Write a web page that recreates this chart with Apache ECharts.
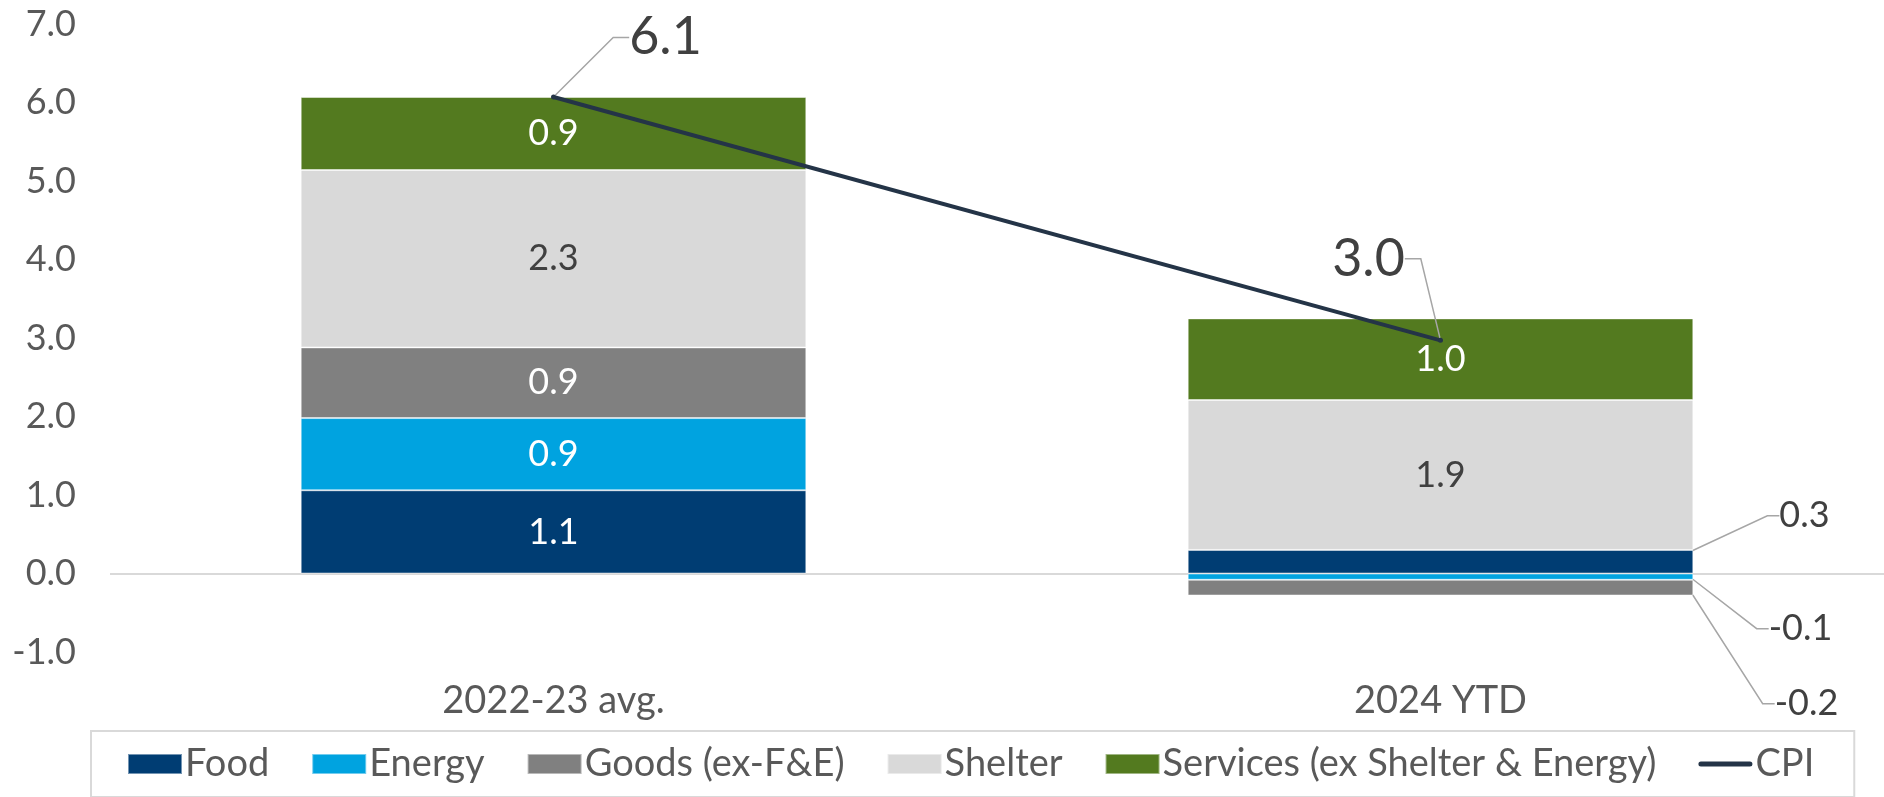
<!DOCTYPE html>
<html>
<head>
<meta charset="utf-8">
<script src="https://cdn.jsdelivr.net/npm/echarts@6/dist/echarts.min.js"></script>
<style>
  html, body { margin: 0; padding: 0; background: #fff; }
  #chart { width: 1884px; height: 797px; }
</style>
</head>
<body>
<div id="chart"></div>
<script>
const categories = ['2022-23 avg.', '2024 YTD']
const food = [1.06, 0.30]
const energy = [0.92, -0.08]
const goods = [0.90, -0.20]
const shelter = [2.26, 1.91]
const services = [0.93, 1.04]
const cpi = [6.07, 2.97]
const yTicks = [-1, 0, 1, 2, 3, 4, 5, 6, 7]

const FONT = 'Lato'
const TEXT = '#595959'
const DARK = '#404040'
const LEADER = { color: '#a6a6a6', width: 1.5 }

// label offsets for the small 2024 segments (moved outside the bar)
const outside = {
  Food: { dx: 364, dy: -46 },
  Energy: { dx: 360, dy: 52 },
  'Goods (ex-F&E)': { dx: 366, dy: 116 },
}

function barSeries(name, values, color, labelColor) {
  return {
    name,
    type: 'bar',
    stack: 'cpi',
    barWidth: '57%',
    itemStyle: { color, borderColor: 'rgba(255,255,255,0.45)', borderWidth: 1 },
    label: {
      show: true,
      position: 'inside',
      color: labelColor,
      fontFamily: FONT,
      fontSize: 36,
      formatter: p => p.value.toFixed(1),
    },
    data: values.map((v, i) => {
      if (outside[name] && i === 1) {
        return { value: v, label: { color: DARK }, labelLine: { show: true } }
      }
      return v
    }),
    labelLine: { lineStyle: LEADER, length2: 12 },
    labelLayout: params => {
      if (outside[name] && params.dataIndex === 1) return outside[name]
      return {}
    },
  }
}

const chart = echarts.init(document.getElementById('chart'))

chart.setOption({
  animation: false,
  textStyle: { fontFamily: FONT },
  grid: { left: 110, right: 0, top: 24, bottom: 145 },
  xAxis: {
    type: 'category',
    data: categories,
    axisLine: { show: false, onZero: false },
    axisTick: { show: false },
    axisLabel: { color: TEXT, fontSize: 38, fontFamily: FONT, margin: 30 },
  },
  yAxis: {
    type: 'value',
    min: yTicks[0],
    max: yTicks[yTicks.length - 1],
    interval: 1,
    axisLine: { show: false },
    axisTick: { show: false },
    axisLabel: {
      color: TEXT,
      fontSize: 36,
      fontFamily: FONT,
      margin: 34,
      formatter: v => v.toFixed(1),
    },
    splitLine: {
      show: true,
      lineStyle: {
        color: yTicks.map(t => (t === 0 ? '#d9d9d9' : 'rgba(0,0,0,0)')),
        width: 2,
      },
    },
  },
  legend: {
    left: 91,
    bottom: 0,
    width: 1771,
    padding: [14, 40, 14, 36],
    borderColor: '#d9d9d9',
    borderWidth: 2,
    itemWidth: 54,
    itemHeight: 20,
    itemGap: 42,
    textStyle: { color: TEXT, fontSize: 38, fontFamily: FONT, padding: [0, 0, 0, -2] },
    data: [
      { name: 'Food', icon: 'rect' },
      { name: 'Energy', icon: 'rect' },
      { name: 'Goods (ex-F&E)', icon: 'rect' },
      { name: 'Shelter', icon: 'rect' },
      { name: 'Services (ex Shelter & Energy)', icon: 'rect' },
      { name: 'CPI', icon: 'path://M2.5,0 H51.5 A2.5,2.5 0 0 1 51.5,5 H2.5 A2.5,2.5 0 0 1 2.5,0 Z' },
    ],
  },
  series: [
    barSeries('Food', food, '#003d73', '#ffffff'),
    barSeries('Energy', energy, '#00a3e0', '#ffffff'),
    barSeries('Goods (ex-F&E)', goods, '#808080', '#ffffff'),
    barSeries('Shelter', shelter, '#d9d9d9', DARK),
    barSeries('Services (ex Shelter & Energy)', services, '#537a1f', '#ffffff'),
    {
      name: 'CPI',
      type: 'line',
      // the 2024 label gets left padding so its leader attaches on the right side
      data: cpi.map((v, i) => (i === 1 ? { value: v, label: { padding: [0, 0, 0, 120] } } : v)),
      symbol: 'circle',
      symbolSize: 5,
      z: 5,
      lineStyle: { color: '#243447', width: 4 },
      itemStyle: { color: '#243447' },
      label: {
        show: true,
        position: 'top',
        color: DARK,
        fontFamily: FONT,
        fontSize: 52,
        lineHeight: 20,
        formatter: p => p.value.toFixed(1),
      },
      labelLine: { show: true, lineStyle: LEADER, length2: 16 },
      labelLayout: params => (params.dataIndex === 0 ? { dx: 112, dy: -42 } : { dx: -132, dy: -64 }),
    },
  ],
})
</script>
</body>
</html>
